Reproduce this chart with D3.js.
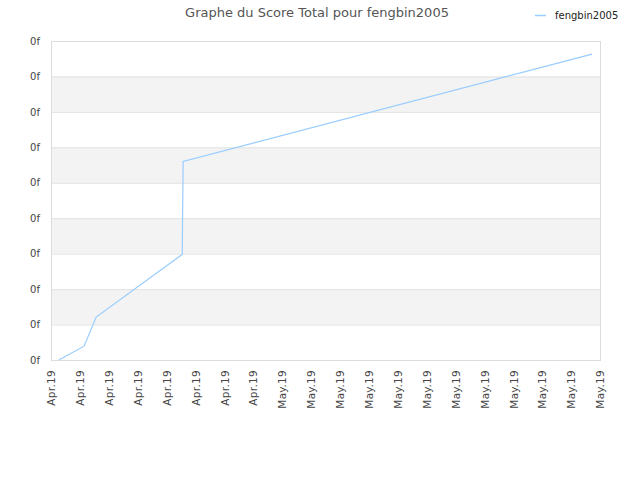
<!DOCTYPE html>
<html>
<head>
<meta charset="utf-8">
<script src="https://cdn.jsdelivr.net/npm/d3@7"></script>
<style>
  body { margin: 0; background: #fff; }
  text { font-family: "DejaVu Sans", Verdana, sans-serif; }
</style>
</head>
<body>
<div id="chart"></div>
<script>
// values
const dates = ["2019-04-15T13:00", "2019-04-17T07:00", "2019-04-18T03:00",
               "2019-04-24T02:00", "2019-04-24T03:30", "2019-05-22T11:00"];
const scores = [0, 0.39, 1.21, 2.98, 5.6, 8.63];
const yTicks = [0, 1, 2, 3, 4, 5, 6, 7, 8, 9];
const xTickLabels = ["Apr.19", "Apr.19", "Apr.19", "Apr.19", "Apr.19", "Apr.19", "Apr.19", "Apr.19",
                     "May.19", "May.19", "May.19", "May.19", "May.19", "May.19", "May.19", "May.19",
                     "May.19", "May.19", "May.19", "May.19"];
const seriesName = "fengbin2005";

const width = 640, height = 480;
const margin = {top: 41, right: 40, bottom: 120, left: 51};

const svg = d3.select("#chart").append("svg")
    .attr("width", width)
    .attr("height", height);

const parse = d3.timeParse("%Y-%m-%dT%H:%M");
const data = dates.map((d, i) => ({date: parse(d), value: scores[i]}));

const x = d3.scaleTime()
    .domain([new Date(2019, 3, 15), new Date(2019, 4, 23)])
    .range([margin.left, width - margin.right]);

const y = d3.scaleLinear()
    .domain([0, 9])
    .range([height - margin.bottom, margin.top]);

// alternating bands
svg.append("g")
    .selectAll("rect")
    .data(yTicks.slice(0, -1).filter(t => t % 2 === 1))
    .enter().append("rect")
    .attr("x", margin.left)
    .attr("width", width - margin.right - margin.left)
    .attr("y", d => y(d + 1))
    .attr("height", d => y(d) - y(d + 1))
    .attr("fill", "#f3f3f3");

// grid lines
svg.append("g")
    .selectAll("line")
    .data(yTicks)
    .enter().append("line")
    .attr("x1", margin.left)
    .attr("x2", width - margin.right)
    .attr("y1", d => y(d) + 0.5)
    .attr("y2", d => y(d) + 0.5)
    .attr("stroke", "#e2e2e2");

// plot border
svg.append("rect")
    .attr("x", margin.left + 0.5)
    .attr("y", margin.top + 0.5)
    .attr("width", width - margin.right - margin.left)
    .attr("height", height - margin.bottom - margin.top)
    .attr("fill", "none")
    .attr("stroke", "#dcdcdc");

// y axis labels
const yAxis = d3.axisLeft(y).tickValues(yTicks).tickSize(0).tickPadding(11).tickFormat(() => "0f");
svg.append("g")
    .attr("transform", `translate(${margin.left},0)`)
    .call(yAxis)
    .call(g => g.select(".domain").remove())
    .selectAll("text")
    .attr("font-size", 10)
    .attr("font-family", "DejaVu Sans, sans-serif")
    .attr("fill", "#444");

// x axis labels
const xTicks = d3.range(xTickLabels.length).map(i => d3.timeDay.offset(new Date(2019, 3, 15), i * 2));
const xAxis = d3.axisBottom(x).tickValues(xTicks).tickSize(0).tickPadding(0)
    .tickFormat((d, i) => xTickLabels[i]);
svg.append("g")
    .attr("transform", `translate(0,${height - margin.bottom})`)
    .call(xAxis)
    .call(g => g.select(".domain").remove())
    .selectAll("text")
    .attr("font-size", 10.5)
    .attr("letter-spacing", 0.3)
    .attr("font-family", "DejaVu Sans, sans-serif")
    .attr("fill", "#444")
    .attr("transform", "rotate(-90)")
    .attr("text-anchor", "end")
    .attr("dy", "0.35em")
    .attr("x", -10)
    .attr("y", 0);

// the line
const line = d3.line()
    .x(d => x(d.date))
    .y(d => y(d.value));

svg.append("path")
    .datum(data)
    .attr("d", line)
    .attr("fill", "none")
    .attr("stroke", "#99ccff")
    .attr("stroke-width", 1.2);

// title
svg.append("text")
    .attr("x", 317)
    .attr("y", 17)
    .attr("text-anchor", "middle")
    .attr("font-size", 13)
    .attr("fill", "#555")
    .text("Graphe du Score Total pour " + seriesName);

// legend
svg.append("line")
    .attr("x1", 535).attr("x2", 546)
    .attr("y1", 15.5).attr("y2", 15.5)
    .attr("stroke", "#99ccff")
    .attr("stroke-width", 1.5);
svg.append("text")
    .attr("x", 555)
    .attr("y", 19)
    .attr("font-size", 10)
    .attr("fill", "#222")
    .text(seriesName);
</script>
</body>
</html>
